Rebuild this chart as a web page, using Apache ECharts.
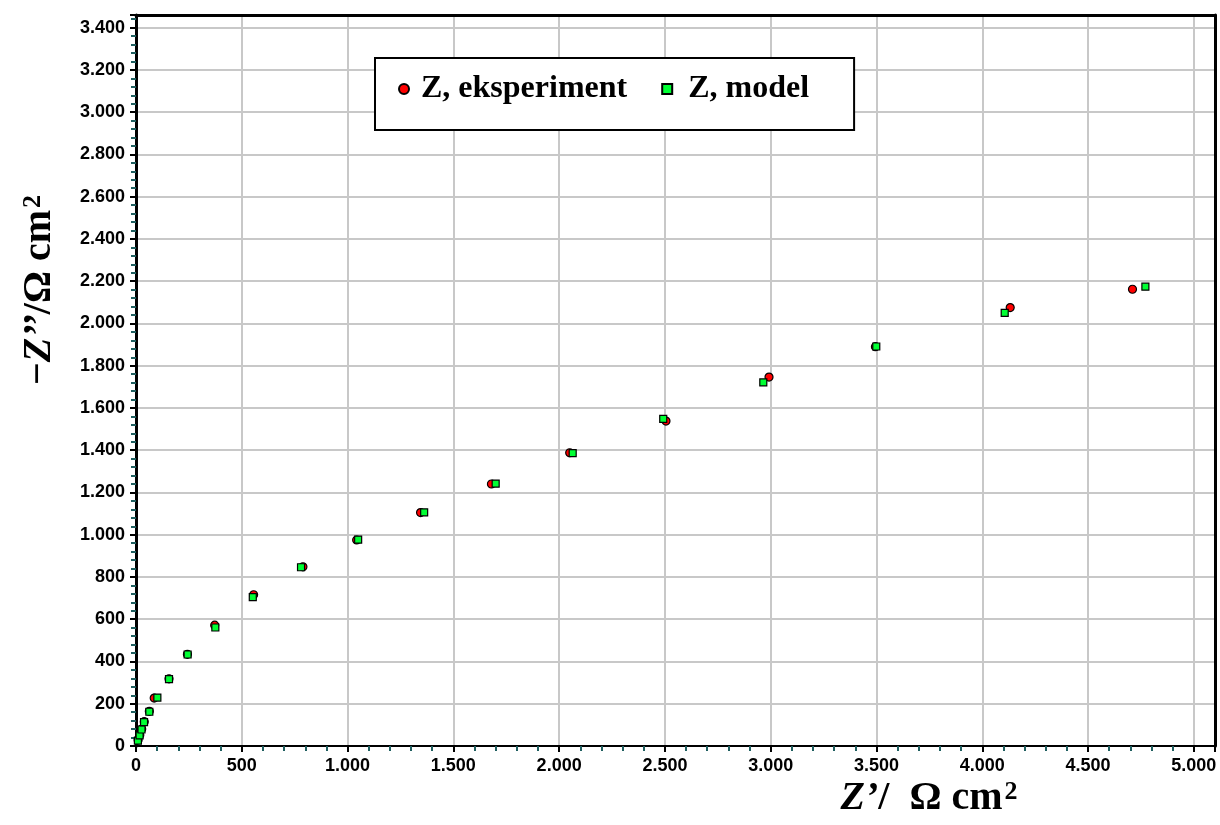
<!DOCTYPE html>
<html>
<head>
<meta charset="utf-8">
<script src="https://cdn.jsdelivr.net/npm/echarts@6/dist/echarts.min.js"></script>
<style>
  html, body { margin: 0; padding: 0; background: #fff; }
  #chart { width: 1220px; height: 825px; }
</style>
</head>
<body>
<div id="chart"></div>
<script>
// Nyquist data: real part Z' and negative imaginary part -Z'' (Ω cm²)
const eksperimentRe = [10, 18, 27, 39, 63, 86, 156, 243, 372, 556, 789, 1043, 1345, 1680, 2050, 2505, 2992, 3495, 4132, 4710];
const eksperimentIm = [28, 52, 80, 115, 164, 227, 318, 434, 572, 716, 848, 975, 1105, 1240, 1388, 1538, 1746, 1890, 2075, 2162];
const modelRe = [9, 17, 26, 38, 63, 101, 156, 244, 375, 552, 780, 1050, 1362, 1700, 2064, 2492, 2965, 3499, 4106, 4771];
const modelIm = [25, 50, 78, 113, 162, 229, 317, 433, 561, 705, 846, 977, 1106, 1242, 1386, 1548, 1721, 1891, 2050, 2174];

const seriesNames = ['Z, eksperiment', 'Z, model'];

const pairs = (xs, ys) => xs.map((x, i) => [x, ys[i]]);
const thousands = v => String(v).replace(/\B(?=(\d{3})+(?!\d))/g, '.');

const serif = 'Liberation Serif, Times New Roman, serif';
const sans = 'Liberation Sans, Arial, sans-serif';

const labelStyle = {
  show: true,
  fontFamily: sans,
  fontWeight: 'bold',
  fontSize: 18,
  color: '#000',
  formatter: thousands,
  showMaxLabel: false
};

const frameAxis = {
  type: 'value',
  axisLine: { show: true, onZero: false, lineStyle: { color: '#000', width: 3 } },
  axisTick: { show: false },
  axisLabel: { show: false },
  splitLine: { show: false }
};

// rich styles for the axis titles (italic Z, superscript exponent)
const titleRich = {
  n: { fontFamily: serif, fontWeight: 'bold', fontSize: 40, fill: '#000', verticalAlign: 'bottom' },
  i: { fontFamily: serif, fontWeight: 'bold', fontStyle: 'italic', fontSize: 40, fill: '#000', verticalAlign: 'bottom' },
  s: { fontFamily: serif, fontWeight: 'bold', fontSize: 26, fill: '#000', verticalAlign: 'top', padding: [0, 0, 0, 2] }
};

const chart = echarts.init(document.getElementById('chart'), null, { renderer: 'canvas' });

chart.setOption({
  backgroundColor: '#fff',
  animation: false,
  grid: { left: 136, top: 15, right: 5, bottom: 79, containLabel: false, outerBoundsMode: 'none' },
  legend: {
    left: 375,
    top: 58,
    orient: 'horizontal',
    padding: [15, 45, 25, 23],
    itemGap: 34,
    itemWidth: 10,
    itemHeight: 10,
    backgroundColor: '#fff',
    borderColor: '#000',
    borderWidth: 2,
    borderRadius: 0,
    data: [
      { name: seriesNames[0], icon: 'circle' },
      { name: seriesNames[1], icon: 'rect' }
    ],
    formatter: name => (name === seriesNames[0] ? '{a|' : '{b|') + name + '}',
    textStyle: {
      fontFamily: serif, fontWeight: 'bold', fontSize: 32, color: '#000',
      rich: {
        a: { fontFamily: serif, fontWeight: 'bold', fontSize: 32, color: '#000', padding: [0, 0, 0, 7] },
        b: { fontFamily: serif, fontWeight: 'bold', fontSize: 32, color: '#000', padding: [0, 0, 0, 11] }
      }
    }
  },
  xAxis: [
    {
      type: 'value',
      position: 'bottom',
      min: 0,
      max: 5100,
      interval: 500,
      axisLine: { show: true, onZero: false, lineStyle: { color: '#000', width: 2 } },
      axisTick: { show: true, length: 6, lineStyle: { color: '#000', width: 2 } },
      minorTick: { show: true, splitNumber: 5, length: 5, lineStyle: { color: '#1f5f60', width: 2 } },
      splitLine: { show: true, lineStyle: { color: '#c8c8c8', width: 2 } },
      axisLabel: Object.assign({ margin: 11 }, labelStyle)
    },
    Object.assign({ position: 'top', min: 0, max: 5100 }, frameAxis)
  ],
  yAxis: [
    {
      type: 'value',
      position: 'left',
      min: 0,
      max: 3460,
      interval: 200,
      axisLine: { show: true, onZero: false, lineStyle: { color: '#000', width: 3 } },
      axisTick: { show: true, length: 6, lineStyle: { color: '#000', width: 2 } },
      minorTick: { show: true, splitNumber: 5, length: 5, lineStyle: { color: '#1f5f60', width: 2 } },
      splitLine: { show: true, lineStyle: { color: '#c8c8c8', width: 2 } },
      axisLabel: Object.assign({ margin: 11 }, labelStyle)
    },
    Object.assign({ position: 'right', min: 0, max: 3460 }, frameAxis)
  ],
  series: [
    {
      name: seriesNames[0],
      type: 'scatter',
      xAxisIndex: 0,
      yAxisIndex: 0,
      symbol: 'circle',
      symbolSize: 8,
      itemStyle: { color: '#ff0000', borderColor: '#000', borderWidth: 1.2, opacity: 1 },
      data: pairs(eksperimentRe, eksperimentIm),
      z: 3
    },
    {
      name: seriesNames[1],
      type: 'scatter',
      xAxisIndex: 0,
      yAxisIndex: 0,
      symbol: 'rect',
      symbolSize: 7,
      itemStyle: { color: '#00ff33', borderColor: '#000', borderWidth: 1.2, opacity: 1 },
      data: pairs(modelRe, modelIm),
      z: 4
    }
  ],
  graphic: [
    {
      type: 'text',
      x: 40,
      y: 290,
      rotation: Math.PI / 2,
      style: {
        text: '{n|\u2212}{i|Z\u2019\u2019}{n|/\u03A9 cm}{s|2}',
        align: 'center',
        verticalAlign: 'middle',
        fill: '#000',
        rich: titleRich
      }
    },
    {
      type: 'text',
      x: 929,
      y: 799,
      style: {
        text: '{i|Z\u2019}{n|/  \u03A9 cm}{s|2}',
        align: 'center',
        verticalAlign: 'middle',
        fill: '#000',
        rich: titleRich
      }
    }
  ]
});
</script>
</body>
</html>
